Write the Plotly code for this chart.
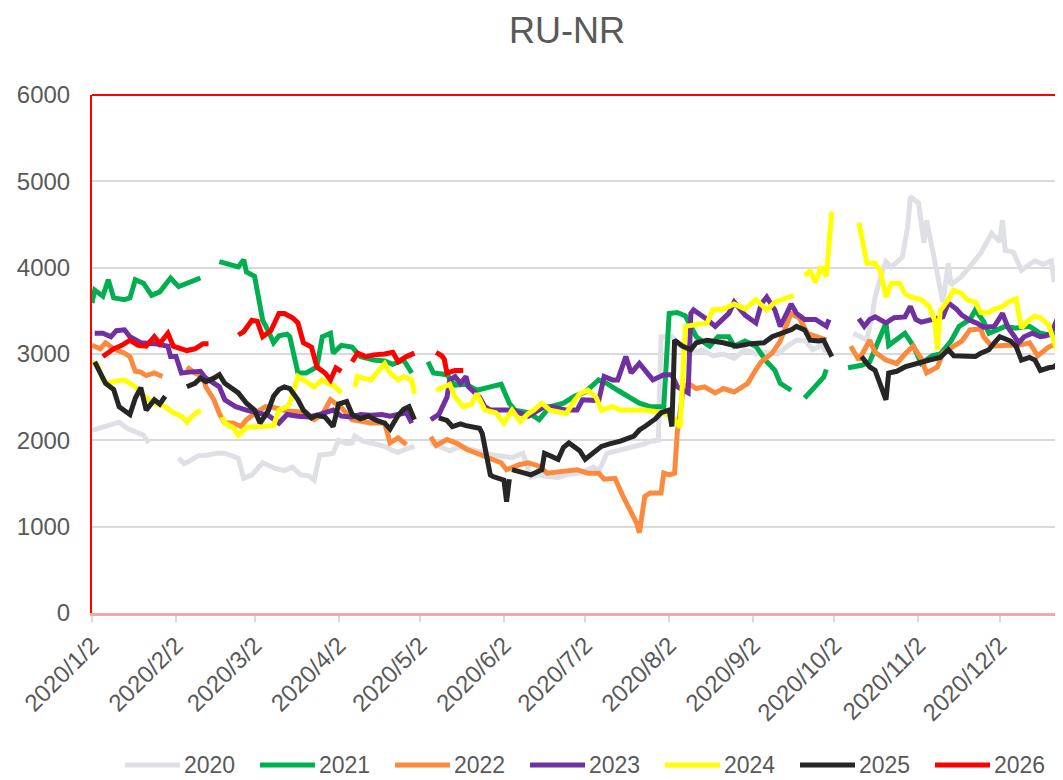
import plotly.graph_objects as go

# ---------------- data ----------------
years = ["2020", "2021", "2022", "2023", "2024", "2025", "2026"]
line_colors = ["#dfe0e5", "#00b050", "#fb8a3c", "#7030a0", "#ffff00", "#262626", "#ff0000"]

tick_dates = ["2020-01-02", "2020-02-02", "2020-03-02", "2020-04-02", "2020-05-02", "2020-06-02",
              "2020-07-02", "2020-08-02", "2020-09-02", "2020-10-02", "2020-11-02", "2020-12-02"]
tick_text = ["2020/1/2", "2020/2/2", "2020/3/2", "2020/4/2", "2020/5/2", "2020/6/2",
             "2020/7/2", "2020/8/2", "2020/9/2", "2020/10/2", "2020/11/2", "2020/12/2"]

S2020 = [("01-02",2115),("01-06",2150),("01-10",2200),("01-12",2210),("01-15",2140),("01-18",2100),("01-21",2060),("01-23",1970),
         ("01-28",None),
         ("02-03",1795),("02-05",1730),("02-07",1760),("02-10",1820),("02-14",1830),("02-17",1850),("02-20",1850),("02-23",1820),
         ("02-25",1790),("02-27",1560),("03-01",1600),("03-05",1740),("03-08",1700),("03-10",1670),("03-13",1650),("03-16",1690),
         ("03-19",1600),("03-22",1590),("03-24",1540),("03-26",1830),("03-29",1840),("03-31",1850),("04-02",2000),("04-05",1960),
         ("04-07",1970),("04-08",2050),("04-11",1990),("04-14",1970),("04-17",1950),("04-19",1930),("04-22",1880),("04-24",1860),
         ("04-27",1900),("04-30",1930),
         ("05-03",None),
         ("05-06",1970),("05-10",1920),("05-13",1880),("05-17",1930),("05-20",1900),("05-23",1870),("05-26",1850),("05-29",1830),
         ("06-01",1820),("06-05",1800),("06-09",1850),("06-12",1575),("06-15",1600),("06-18",1580),("06-22",1570),("06-25",1600),
         ("06-30",1620),("07-03",1660),("07-05",1690),("07-07",1640),("07-10",1850),("07-14",1880),("07-17",1900),("07-20",1920),
         ("07-24",1960),("07-26",1990),("07-29",2000),("07-30",3200),("08-03",3200),("08-06",3100),("08-10",3000),("08-14",3050),
         ("08-18",2980),("08-22",3000),("08-26",2950),("08-30",3050),("09-03",3000),("09-07",3020),("09-11",3000),("09-15",3100),
         ("09-18",3160),("09-21",3160),("09-24",3050),("09-27",3100),("09-29",3020),
         ("10-04",None),
         ("10-09",3240),("10-12",3200),("10-14",3160),("10-16",3470),("10-17",3660),("10-19",3890),("10-21",4070),("10-23",4010),
         ("10-27",4120),("10-29",4470),("10-30",4820),("11-02",4750),("11-04",4290),("11-05",4550),("11-08",4060),("11-11",3600),
         ("11-13",4050),("11-14",3800),("11-18",3900),("11-23",4100),("11-25",4170),("11-29",4400),("12-02",4300),("12-03",4550),
         ("12-04",4200),("12-07",4180),("12-10",3970),("12-13",4040),("12-15",4080),("12-18",4040),("12-21",4080),("12-22",3860),
         ("12-27",3860),("12-31",3860)]

S2021 = [("01-02",3590),("01-03",3740),("01-06",3670),("01-08",3860),("01-10",3650),("01-14",3630),("01-16",3650),("01-18",3860),
         ("01-21",3820),("01-24",3680),("01-27",3720),("01-31",3880),("02-03",3780),("02-07",3830),("02-11",3880),
         ("02-14",None),
         ("02-18",4070),("02-21",4040),("02-25",4010),("02-27",4090),("02-28",3950),("03-02",3900),("03-04",3590),("03-05",3390),
         ("03-07",3270),("03-09",3130),("03-11",3210),("03-14",3230),("03-15",3200),("03-18",2780),("03-21",2780),("03-25",2850),
         ("03-27",3200),("03-30",3240),("03-31",3010),("04-03",3100),("04-07",3080),("04-10",2970),("04-15",2930),("04-19",2920),
         ("04-22",2880),("04-26",2930),("04-29",2780),
         ("05-02",None),
         ("05-05",2910),("05-07",2780),("05-12",2760),("05-15",2640),("05-19",2650),("05-23",2580),("05-28",2620),("06-01",2650),
         ("06-04",2430),("06-06",2350),("06-11",2320),("06-15",2240),("06-19",2390),("06-24",2430),("06-28",2510),("07-02",2560),
         ("07-07",2700),("07-10",2660),("07-14",2580),("07-20",2470),("07-22",2430),("07-26",2390),("07-31",2390),("08-02",3470),
         ("08-05",3480),("08-08",3440),("08-10",3320),("08-12",3200),("08-15",3130),("08-17",3090),("08-20",3200),("08-24",3200),
         ("08-26",3090),("08-30",3150),("09-03",3090),("09-07",2910),("09-10",2810),("09-12",2660),("09-16",2580),
         ("09-18",None),
         ("09-21",2490),("09-25",2620),("09-28",2730),("09-29",2820),
         ("10-03",None),
         ("10-07",2840),("10-12",2870),("10-15",2910),("10-17",3050),("10-21",3360),("10-22",3100),("10-28",3240),("10-31",3100),
         ("11-03",2890),("11-07",2980),("11-10",3000),("11-14",3150),("11-17",3320),("11-21",3400),("11-23",3510),("11-26",3380),
         ("11-28",3240),("12-04",3320),("12-08",3300),("12-13",3320),("12-17",3240),("12-20",3220),("12-25",3240),("12-31",3250)]

S2022 = [("01-02",3100),("01-05",3060),("01-07",3130),("01-10",3060),("01-14",3010),("01-16",2970),("01-18",2800),("01-20",2790),
         ("01-22",2750),("01-25",2780),("01-28",2740),
         ("02-01",None),
         ("02-06",2850),("02-09",2780),("02-12",2740),("02-13",2620),("02-16",2470),("02-18",2310),("02-20",2200),("02-23",2200),
         ("02-26",2160),("02-28",2240),("03-03",2330),("03-06",2390),("03-09",2380),("03-14",2340),("03-18",2330),("03-20",2320),
         ("03-24",2240),("03-27",2300),("03-30",2470),("04-03",2380),("04-07",2240),("04-10",2220),("04-14",2200),("04-19",2200),
         ("04-21",1970),("04-24",2030),("04-27",1950),
         ("05-02",None),
         ("05-06",2040),("05-08",1940),("05-12",2010),("05-16",1960),("05-19",1900),("05-23",1850),("05-28",1800),("06-01",1740),
         ("06-03",1660),("06-08",1720),("06-11",1740),("06-15",1700),("06-18",1620),("06-22",1630),("06-25",1640),("06-29",1660),
         ("07-03",1620),("07-07",1620),("07-09",1550),("07-13",1560),("07-16",1350),("07-19",1160),("07-21",1040),("07-22",930),
         ("07-24",1350),("07-26",1390),("07-30",1390),("07-31",1620),("08-02",1600),("08-04",1620),("08-05",2100),("08-07",2550),
         ("08-09",2660),("08-12",2600),("08-15",2620),("08-19",2550),("08-22",2600),("08-26",2560),("08-31",2660),("09-03",2820),
         ("09-05",2910),("09-09",3010),("09-12",3150),("09-16",3470),("09-19",3420),("09-22",3240),("09-26",3200),("09-29",3160),
         ("10-04",None),
         ("10-08",3090),("10-11",2930),("10-15",3160),("10-17",3020),("10-21",2930),("10-25",2890),("10-28",3000),("10-31",3090),
         ("11-03",2950),("11-05",2780),("11-09",2850),("11-11",3010),("11-15",3090),("11-18",3150),("11-21",3280),("11-25",3290),
         ("11-26",3200),("11-29",3090),("12-05",3100),("12-09",3100),("12-13",3130),("12-16",2980),("12-20",3080),("12-25",3150),
         ("12-31",3150)]

S2023 = [("01-03",3240),("01-06",3240),("01-09",3200),("01-11",3270),("01-14",3280),("01-16",3200),("01-20",3130),("01-25",3120),
         ("01-30",3090),("01-31",2970),("02-02",2970),("02-04",2780),("02-07",2790),("02-11",2800),("02-13",2720),("02-18",2620),
         ("02-20",2470),("02-24",2390),("02-28",2350),("03-03",2320),("03-07",2290),("03-11",2200),("03-14",2300),("03-18",2280),
         ("03-22",2270),("03-26",2300),("03-31",2350),("04-03",2280),("04-07",2270),("04-10",2300),("04-14",2290),("04-18",2300),
         ("04-21",2280),("04-27",2320),("04-29",2200),
         ("05-03",None),
         ("05-06",2240),("05-09",2300),("05-12",2500),("05-13",2700),("05-15",2740),("05-17",2660),("05-19",2740),("05-20",2620),
         ("05-24",2500),("05-26",2390),("05-28",2350),("06-05",2350),("06-11",2280),("06-17",2390),("06-21",2380),("06-25",2350),
         ("06-29",2350),("07-01",2470),("07-07",2460),("07-09",2740),("07-12",2700),("07-14",2700),("07-17",2970),("07-19",2780),
         ("07-22",2890),("07-25",2780),("07-27",2700),("07-31",2760),("08-03",2760),("08-05",2620),("08-09",2550),("08-10",3470),
         ("08-11",3510),("08-16",3400),("08-19",3320),("08-24",3470),("08-26",3600),("08-30",3450),("09-03",3360),("09-05",3580),
         ("09-07",3660),("09-10",3510),("09-11",3400),("09-12",3320),("09-15",3510),("09-16",3580),("09-18",3470),("09-21",3400),
         ("09-25",3400),("09-29",3320),("09-30",3400),
         ("10-05",None),
         ("10-11",3410),("10-13",3320),("10-15",3400),("10-17",3430),("10-21",3360),("10-24",3420),("10-28",3430),("10-30",3550),
         ("11-01",3400),("11-03",3370),("11-07",3400),("11-11",3430),("11-13",3590),("11-16",3520),("11-18",3450),("11-21",3390),
         ("11-24",3350),("11-26",3310),("11-30",3320),("12-03",3470),("12-05",3310),("12-09",3130),("12-11",3200),("12-14",3240),
         ("12-17",3200),("12-19",3210),("12-21",3240),("12-23",3390),("12-27",3400),("12-31",3380)]

S2024 = [("01-02",2910),("01-04",2870),("01-06",2700),("01-08",2660),("01-10",2680),("01-14",2700),("01-18",2620),("01-20",2540),
         ("01-23",2470),("01-25",2430),("01-29",2390),("02-01",2320),("02-04",2280),("02-06",2210),("02-08",2280),("02-11",2350),
         ("02-14",None),
         ("02-19",2270),("02-20",2200),("02-23",2150),("02-25",2060),("02-28",2150),("03-02",2160),("03-06",2160),("03-09",2170),
         ("03-11",2350),("03-14",2390),("03-15",2430),("03-18",2740),("03-20",2700),("03-24",2620),("03-27",2700),("03-29",2660),
         ("03-31",2640),("04-03",2550),
         ("04-05",None),
         ("04-08",2620),("04-09",2740),("04-11",2720),("04-14",2700),("04-16",2780),("04-19",2890),("04-21",2780),("04-24",2700),
         ("04-26",2740),("04-29",2700),("04-30",2540),
         ("05-04",None),
         ("05-08",2580),("05-11",2620),("05-13",2650),("05-15",2500),("05-18",2390),("05-21",2420),("05-23",2540),("05-26",2350),
         ("05-30",2320),("06-02",2200),("06-05",2350),("06-08",2220),("06-11",2310),("06-13",2350),("06-16",2430),("06-19",2350),
         ("06-22",2330),("06-25",2310),("06-28",2460),("06-30",2540),("07-03",2580),("07-06",2500),("07-08",2350),("07-12",2390),
         ("07-15",2350),("07-20",2350),("07-24",2350),("07-29",2330),("08-03",2280),("08-06",2150),("08-08",3320),("08-12",3340),
         ("08-16",3360),("08-18",3510),("08-22",3520),("08-26",3580),("08-30",3520),("09-03",3630),("09-07",3510),("09-10",3600),
         ("09-14",3640),("09-17",3680),
         ("09-19",None),
         ("09-21",3910),("09-23",3960),("09-25",3830),("09-27",4010),("09-29",3900),("09-30",4290),("10-01",4650),
         ("10-06",None),
         ("10-11",4520),("10-13",4240),("10-14",4050),("10-17",4050),("10-19",3960),("10-21",3660),("10-23",3820),("10-26",3820),
         ("10-28",3700),("10-30",3660),("11-03",3630),("11-06",3550),("11-08",3390),("11-09",3050),("11-10",3500),("11-13",3630),
         ("11-15",3740),("11-18",3700),("11-20",3630),("11-23",3600),("11-25",3480),("11-28",3480),("11-30",3520),("12-03",3550),
         ("12-05",3600),("12-08",3640),("12-10",3300),("12-13",3400),("12-15",3440),("12-17",3420),("12-20",3340),("12-23",3050),
         ("12-24",3200),("12-28",3150),("12-31",3150)]

S2025 = [("01-03",2910),("01-05",2780),("01-07",2660),("01-10",2590),("01-12",2390),("01-16",2300),("01-18",2490),("01-20",2610),
         ("01-22",2350),("01-25",2470),("01-27",2420),("01-29",2510),
         ("02-02",None),
         ("02-06",2620),("02-09",2660),("02-11",2720),("02-13",2680),("02-16",2720),("02-18",2760),("02-20",2660),("02-22",2620),
         ("02-25",2550),("02-28",2430),("03-02",2350),("03-04",2200),("03-07",2340),("03-09",2510),("03-11",2590),("03-13",2620),
         ("03-15",2600),("03-18",2470),("03-20",2350),("03-23",2260),("03-25",2290),("03-28",2270),("03-31",2160),("04-02",2420),
         ("04-05",2450),("04-07",2300),("04-10",2250),("04-13",2280),("04-16",2230),("04-19",2200),("04-21",2130),("04-24",2290),
         ("04-26",2360),("04-28",2390),("04-30",2240),
         ("05-04",None),
         ("05-09",2260),("05-12",2230),("05-14",2160),("05-17",2190),("05-19",2170),("05-22",2160),("05-24",2140),("05-25",2080),
         ("05-28",1600),("05-29",1580),("06-01",1560),("06-02",1540),("06-03",1290),("06-04",1550),
         ("06-04 12:00",None),
         ("06-05",1660),("06-07",1640),("06-10",1620),("06-12",1600),("06-16",1660),("06-17",1850),("06-22",1780),("06-24",1920),
         ("06-26",1970),("06-30",1880),("07-02",1780),("07-08",1930),("07-11",1960),("07-15",1990),("07-20",2050),("07-22",2120),
         ("07-24",2160),("07-28",2250),("07-30",2320),("08-02",2350),("08-03",2160),("08-04",3160),("08-07",3090),("08-10",3050),
         ("08-12",3130),("08-16",3160),("08-22",3130),("08-27",3090),("09-01",3120),("09-06",3130),("09-09",3200),("09-13",3240),
         ("09-16",3280),("09-18",3320),("09-21",3280),("09-23",3160),("09-26",3150),("09-28",3160),("09-30",3010),("10-01",2970),
         ("10-06",None),
         ("10-12",2970),("10-15",2850),("10-17",2810),("10-19",2620),("10-21",2470),("10-22",2780),("10-25",2800),("10-28",2850),
         ("10-31",2880),("11-03",2900),("11-06",2930),("11-10",2960),("11-13",3050),("11-15",2980),("11-20",2970),("11-23",2970),
         ("11-25",3010),("11-28",3050),("11-30",3130),("12-02",3200),("12-06",3150),("12-08",3090),("12-10",2930),("12-13",2960),
         ("12-15",2930),("12-17",2810),("12-20",2840),("12-22",2850),("12-25",2930),("12-31",2930)]

S2026 = [("01-06",2970),("01-10",3060),("01-13",3100),("01-16",3160),("01-19",3100),("01-22",3090),("01-25",3200),("01-27",3120),
         ("01-30",3240),("02-01",3090),("02-04",3060),("02-06",3040),("02-09",3060),("02-12",3120),("02-14",3120),
         ("02-20",None),
         ("02-25",3220),("02-27",3260),("03-01",3390),("03-03",3380),("03-05",3200),("03-08",3270),("03-11",3470),("03-13",3470),
         ("03-16",3420),("03-18",3360),("03-20",3130),("03-23",3080),("03-25",2850),("03-28",2780),("03-30",2700),("04-01",2840),
         ("04-03",2800),
         ("04-05",None),
         ("04-07",2910),("04-09",3010),("04-12",2970),("04-15",2990),("04-19",3000),("04-22",3020),("04-24",2910),("04-27",2970),
         ("04-30",3010),
         ("05-04",None),
         ("05-08",3020),("05-10",2980),("05-11",2940),("05-12",2780),("05-15",2810),("05-18",2810)]

series = [S2020, S2021, S2022, S2023, S2024, S2025, S2026]

# ---------------- layout constants (figure pixels; page has an 8px body margin) ----------------
FONT = "Arial, 'Liberation Sans', sans-serif"
TXT = "#595959"
FIG_W, FIG_H = 1055, 772
M_L, M_T, M_R, M_B = 84, 87, 0, 167
PLOT_W = FIG_W - M_L - M_R
PLOT_H = FIG_H - M_T - M_B


def px_x(fx):
    return (fx - M_L) / PLOT_W


def px_y(fy):
    return (FIG_H - M_B - fy) / PLOT_H


fig = go.Figure()
for name, color, data in zip(years, line_colors, series):
    fig.add_trace(go.Scatter(
        x=["2020-" + d for d, _ in data],
        y=[v for _, v in data],
        mode="lines", name=name, connectgaps=False,
        line=dict(color=color, width=5),
    ))

# manual legend (one row along the bottom, as in the reference)
LEG_X0, LEG_STEP, LEG_LINE, LEG_Y = 117, 135, 55, 757
shapes = [dict(type="line", xref="paper", yref="paper", x0=0, x1=1, y0=1, y1=1,
               line=dict(color="#ff0000", width=2), layer="above")]
annotations = []
for i, (name, color) in enumerate(zip(years, line_colors)):
    x0 = LEG_X0 + i * LEG_STEP
    shapes.append(dict(type="line", xref="paper", yref="paper",
                       x0=px_x(x0), x1=px_x(x0 + LEG_LINE), y0=px_y(LEG_Y), y1=px_y(LEG_Y),
                       line=dict(color=color, width=5)))
    annotations.append(dict(text=name, xref="paper", yref="paper", showarrow=False,
                            x=px_x(x0 + LEG_LINE + 2), y=px_y(LEG_Y), xanchor="left", yanchor="middle",
                            font=dict(family=FONT, size=23, color=TXT)))

fig.update_layout(
    width=FIG_W, height=FIG_H,
    margin=dict(l=M_L, r=M_R, t=M_T, b=M_B, autoexpand=False),
    paper_bgcolor="white", plot_bgcolor="white",
    font=dict(family=FONT, size=24, color=TXT),
    title=dict(text="RU-NR", x=559 / FIG_W, xref="container", xanchor="center",
               y=1 - 22 / FIG_H, yref="container", yanchor="middle",
               font=dict(family=FONT, size=36, color=TXT)),
    showlegend=False,
    shapes=shapes,
    annotations=annotations,
)
fig.update_xaxes(
    type="date", range=["2020-01-02", "2020-12-25 08:00"], automargin=False,
    tickmode="array", tickvals=tick_dates, ticktext=tick_text, tickangle=-45,
    showgrid=False, showline=True, linecolor="#f0a8a8", linewidth=2.5,
    ticks="outside", ticklen=6, tickcolor="#d9d9d9", tickwidth=1.5,
    tickfont=dict(family=FONT, size=24, color=TXT),
)
fig.update_yaxes(
    range=[0, 6000], dtick=1000, tick0=0, automargin=False,
    showgrid=True, gridcolor="#d9d9d9", gridwidth=1.5, zeroline=False,
    showline=True, linecolor="#ff0000", linewidth=2,
    ticks="", ticklabelstandoff=15,
    tickfont=dict(family=FONT, size=24, color=TXT),
)

fig.write_html("out.html")
